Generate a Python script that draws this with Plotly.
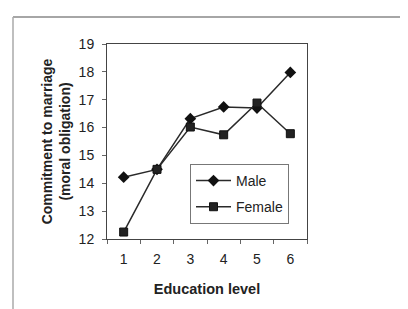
import plotly.graph_objects as go

education = ["1", "2", "3", "4", "5", "6"]
male = [14.22, 14.5, 16.32, 16.74, 16.7, 17.98]
female = [12.25, 14.5, 16.02, 15.74, 16.88, 15.78]

LINE = "#2a2a2a"
FONT = "Liberation Sans, Arial, sans-serif"

fig = go.Figure()
fig.add_trace(go.Scatter(
    x=education, y=male, name="Male", mode="lines+markers",
    legendgroup="m",
    line=dict(color=LINE, width=1.5),
    marker=dict(symbol="diamond", size=9, color="#111111"),
))
fig.add_trace(go.Scatter(
    x=education, y=female, name="Female", mode="lines+markers",
    legendgroup="f",
    line=dict(color=LINE, width=1.5),
    marker=dict(symbol="square", size=8, color="#222222",
                line=dict(color="#111111", width=1)),
))

fig.update_layout(
    width=408, height=309,
    margin=dict(l=99, r=109, t=36, b=78),
    paper_bgcolor="white", plot_bgcolor="white",
    font=dict(family=FONT, size=14, color="#222222"),
    showlegend=True,
    legend=dict(
        x=0.415, y=0.385, xanchor="left", yanchor="top",
        bordercolor="#777777", borderwidth=1, bgcolor="white",
        font=dict(size=14, color="#222222"),
        itemwidth=35, traceorder="grouped", tracegroupgap=5,
    ),
    xaxis=dict(
        type="category", range=[-0.5, 5.5],
        showline=True, linecolor="#444444", linewidth=1, mirror=True,
        ticks="outside", tickson="boundaries", ticklen=4, tickcolor="#666666",
        ticklabelstandoff=7,
        showgrid=False, zeroline=False,
        tickfont=dict(size=14),
        title=dict(text="<b>Education level</b>", font=dict(size=14.5), standoff=18),
    ),
    yaxis=dict(
        range=[12, 19], dtick=1,
        showline=True, linecolor="#444444", linewidth=1, mirror=True,
        ticks="outside", ticklen=4, tickcolor="#666666",
        ticklabelstandoff=5,
        showgrid=False, zeroline=False,
        tickfont=dict(size=14),
        title=dict(text="<b>Commitment to marriage<br>(moral obligation)</b>",
                   font=dict(size=14), standoff=4),
    ),
    shapes=[
        dict(type="line", xref="paper", yref="paper",
             x0=-0.47, x1=1.6, y0=1.138, y1=1.138,
             line=dict(color="#888888", width=1.5)),
        dict(type="line", xref="paper", yref="paper",
             x0=-0.47, x1=-0.47, y0=1.138, y1=-0.45,
             line=dict(color="#aaaaaa", width=1.5)),
    ],
)

fig.write_html("out.html")
